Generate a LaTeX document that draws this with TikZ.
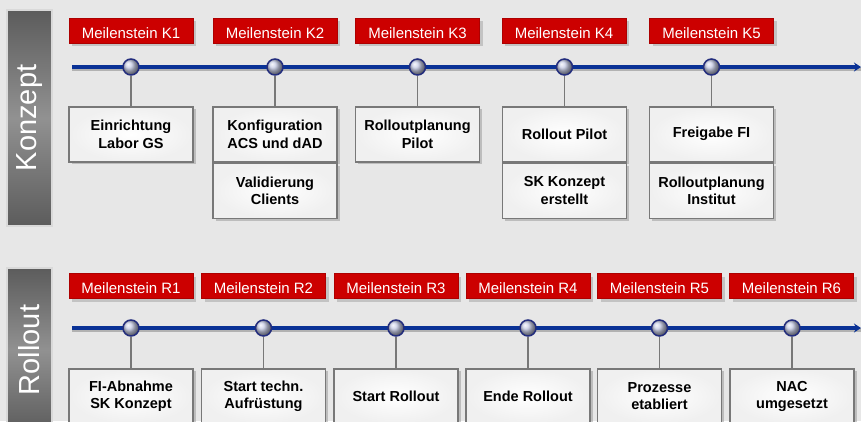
\documentclass[tikz,border=0pt]{standalone}
\usepackage{fontspec}
\setmainfont{Liberation Sans}
\usetikzlibrary{shadows,arrows.meta}

\definecolor{bg}{RGB}{231,231,231}
\definecolor{msred}{RGB}{204,0,0}
\definecolor{lineblue}{RGB}{10,50,150}
\definecolor{navy}{RGB}{35,45,125}
\definecolor{bardark}{RGB}{92,92,92}
\definecolor{barlight}{RGB}{145,145,145}
\definecolor{boxedge}{RGB}{120,120,120}

\tikzset{
  phasebar/.style={rotate=90, draw=white!85!black, line width=1.5pt,
    top color=bardark, bottom color=bardark, middle color=barlight,
    minimum height=45pt, inner sep=0pt, text=white,
    font=\fontsize{29}{34}\selectfont},
  milestone/.style={fill=msred, draw=msred!85!black, text=white,
    minimum width=124pt, minimum height=25pt, inner sep=0pt,
    text height=15pt, text depth=0pt,
    font=\fontsize{15}{18}\selectfont,
    drop shadow={shadow xshift=3pt, shadow yshift=-3pt, opacity=0.35}},
  stone/.style={circle, minimum size=16pt, inner sep=0pt,
    draw=navy, line width=1.5pt, ball color={rgb,1:red,0.78;green,0.80;blue,0.90}},
  taskbox/.style={rectangle, anchor=north, draw=boxedge, line width=1.5pt,
    inner color=white, outer color=white!94!black,
    minimum width=124pt, minimum height=55pt, align=center,
    font=\bfseries\fontsize{14.5}{17.5}\selectfont,
    drop shadow={shadow xshift=2.5pt, shadow yshift=-2.5pt, opacity=0.4}},
  stem/.style={draw=boxedge, line width=1.5pt},
  axis/.style={draw=lineblue, line width=4pt, -{Stealth[length=7pt,width=9pt]}},
  axisshadow/.style={draw=black!30, line width=4pt}
}

\begin{document}
\begin{tikzpicture}[x=1pt,y=-1pt]
  \fill[bg] (0,0) rectangle (861,421);
  \useasboundingbox (0,0) rectangle (861,421);
  \clip (0,0) rectangle (861,421);

  % phases
  \node[phasebar, minimum width=216pt] (konzept) at (29.5,118) {Konzept};
  \node[phasebar, minimum width=164pt] (rollout) at (29.5,350) {Rollout};

  % Konzept: milestones
  \node[milestone] (mk1) at (131,30.5) {Meilenstein K1};
  \node[milestone] (mk2) at (275,30.5) {Meilenstein K2};
  \node[milestone] (mk3) at (417.5,30.5) {Meilenstein K3};
  \node[milestone] (mk4) at (564,30.5) {Meilenstein K4};
  \node[milestone] (mk5) at (711.5,30.5) {Meilenstein K5};

  % Konzept: time line
  \coordinate (ks) at (72,67);
  \coordinate (ke) at (861,67);
  \draw[axisshadow] ([yshift=-2pt]ks) -- ([yshift=-2pt]ke);
  \draw[axis] (ks) -- (ke);

  % Konzept: tasks
  \node[taskbox] (bk1) at (131,106) {Einrichtung\\Labor GS};
  \node[taskbox] (bk2) at (275,106) {Konfiguration\\ACS und dAD};
  \node[taskbox] (bk2b) at (bk2.south) {Validierung\\Clients};
  \node[taskbox] (bk3) at (417.5,106) {Rolloutplanung\\Pilot};
  \node[taskbox] (bk4) at (564.5,106) {Rollout Pilot};
  \node[taskbox] (bk4b) at (bk4.south) {SK Konzept\\erstellt};
  \node[taskbox] (bk5) at (711.5,106) {Freigabe FI};
  \node[taskbox] (bk5b) at (bk5.south) {Rolloutplanung\\Institut};

  \node[stone] (pk1) at (131,67) {};
  \node[stone] (pk2) at (275,67) {};
  \node[stone] (pk3) at (417.5,67) {};
  \node[stone] (pk4) at (564.5,67) {};
  \node[stone] (pk5) at (711.5,67) {};

  \draw[stem] (pk1) -- (bk1);
  \draw[stem] (pk2) -- (bk2);
  \draw[stem] (pk3) -- (bk3);
  \draw[stem] (pk4) -- (bk4);
  \draw[stem] (pk5) -- (bk5);

  % Rollout: milestones
  \node[milestone] (mr1) at (131,286) {Meilenstein R1};
  \node[milestone] (mr2) at (263.5,286) {Meilenstein R2};
  \node[milestone] (mr3) at (396,286) {Meilenstein R3};
  \node[milestone] (mr4) at (528,286) {Meilenstein R4};
  \node[milestone] (mr5) at (659.5,286) {Meilenstein R5};
  \node[milestone] (mr6) at (791.5,286) {Meilenstein R6};

  % Rollout: time line
  \coordinate (rs) at (72,328);
  \coordinate (re) at (861,328);
  \draw[axisshadow] ([yshift=-2pt]rs) -- ([yshift=-2pt]re);
  \draw[axis] (rs) -- (re);

  % Rollout: tasks
  \node[taskbox] (br1) at (131,368) {FI-Abnahme\\SK Konzept};
  \node[taskbox] (br2) at (263.5,368) {Start techn.\\Aufrüstung};
  \node[taskbox] (br3) at (396,368) {Start Rollout};
  \node[taskbox] (br4) at (528,368) {Ende Rollout};
  \node[taskbox] (br5) at (659.5,368) {Prozesse\\etabliert};
  \node[taskbox] (br6) at (792,368) {NAC\\umgesetzt};

  \node[stone] (pr1) at (131,328) {};
  \node[stone] (pr2) at (263.5,328) {};
  \node[stone] (pr3) at (396,328) {};
  \node[stone] (pr4) at (528,328) {};
  \node[stone] (pr5) at (659.5,328) {};
  \node[stone] (pr6) at (792,328) {};

  \draw[stem] (pr1) -- (br1);
  \draw[stem] (pr2) -- (br2);
  \draw[stem] (pr3) -- (br3);
  \draw[stem] (pr4) -- (br4);
  \draw[stem] (pr5) -- (br5);
  \draw[stem] (pr6) -- (br6);
\end{tikzpicture}
\end{document}
